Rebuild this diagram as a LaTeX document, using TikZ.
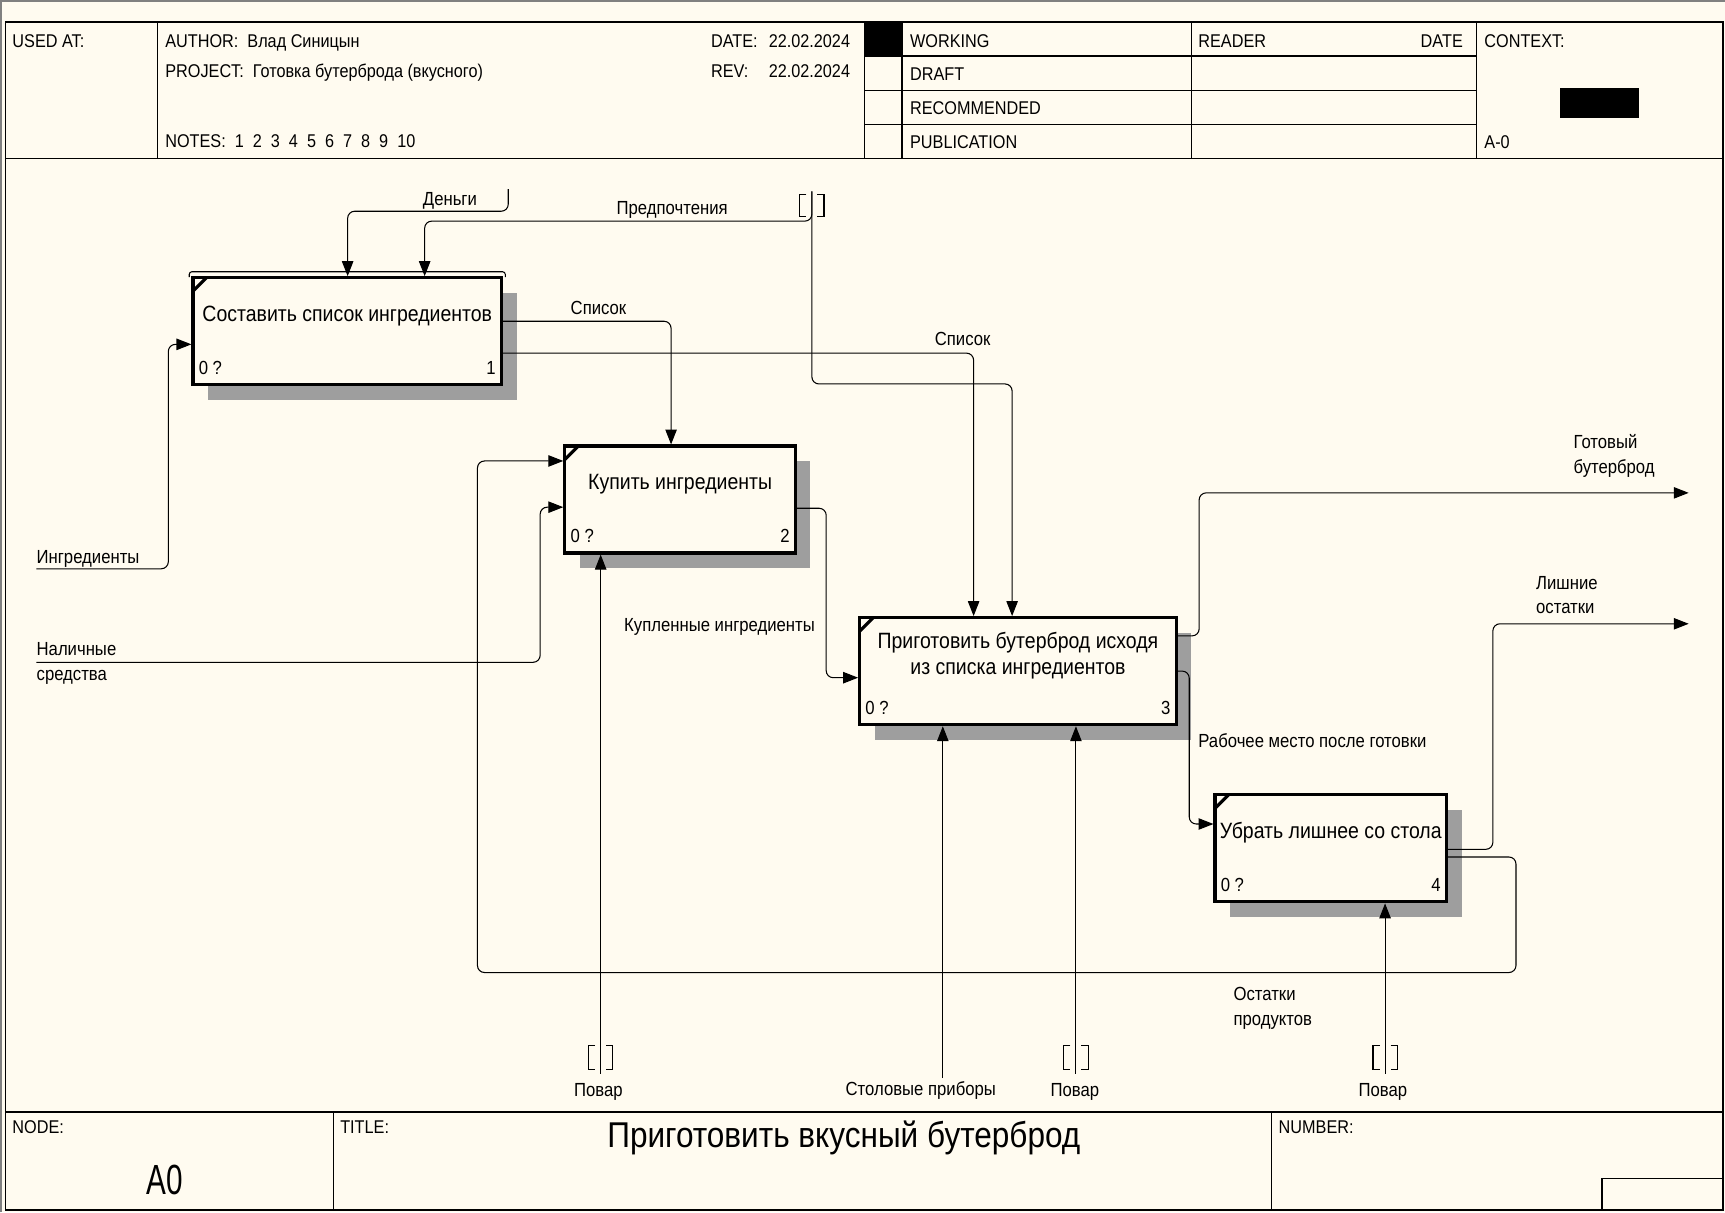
\documentclass[tikz,border=0pt]{standalone}
\usepackage{fontspec}
\setmainfont{Liberation Sans}[FakeStretch=0.88]
\usetikzlibrary{arrows.meta,shadows}
\definecolor{paper}{HTML}{FFFBF0}
\newcommand\boxfont{\fontsize{12.6}{14.4}\selectfont}
\newcommand\lblfont{\fontsize{10.5}{13}\selectfont}
\newcommand\arrfont{\fontsize{10.8}{13}\selectfont}

\begin{document}
\begin{tikzpicture}[x=0.022cm, y=-0.022cm,
  frame/.style={line width=0.8pt},
  act/.style 2 args={draw, line width=1.8pt, fill=paper, anchor=north west, inner sep=0pt, minimum height=2.14cm,
    drop shadow={shadow xshift=0.3cm, shadow yshift=-0.3cm, opacity=1, fill=black!38},
    path picture={\draw[line width=1.8pt] ([yshift=-0.27cm]path picture bounding box.north west) -- ([xshift=0.27cm]path picture bounding box.north west);},
    label={[yshift=0.31cm, align=center, font=\boxfont]center:#1},
    label={[anchor=south west, inner xsep=4pt, inner ysep=6.5pt, font=\arrfont]south west:0 ?},
    label={[anchor=south east, inner xsep=4pt, inner ysep=6.5pt, font=\arrfont]south east:#2}},
  arr/.style={-{Triangle[length=8.5pt,width=6.5pt]}, line width=0.6pt, rounded corners=4pt},
  tunnel/.style={line width=0.6pt},
  hdr/.style={font=\lblfont, inner sep=0pt},
  lbl/.style={font=\arrfont, inner sep=0pt}]
\fill[paper] (0,0) rectangle (1568,1102);
\useasboundingbox (0,0) rectangle (1568,1102);
\draw[gray, line width=1.2pt] (1,1102) -- (1,1) -- (1568,1);
% form
\draw[frame] (5,20) rectangle (1566,1100);
\draw[frame] (5,144) -- (1566,144);
\draw[frame] (143,20) -- (143,144) (786,20) -- (786,144) (820,20) -- (820,144) (1083,20) -- (1083,144) (1342,20) -- (1342,144);
\draw[frame] (786,51) -- (1342,51) (786,82) -- (1342,82) (786,113) -- (1342,113);
\fill (786,20) rectangle (820,51);
\fill (1418,80) rectangle (1490,107);
\draw[frame, line width=1.2pt] (5,1011) -- (1566,1011);
\draw[frame] (303,1011) -- (303,1100) (1156,1011) -- (1156,1100);
\draw[frame] (1456,1100) |- (1566,1071);
\node[hdr, anchor=base west] (hUsed) at (11,43) {USED AT:};
\node[hdr, anchor=base west] (hAuthor) at (150,43) {AUTHOR:\ \ Влад Синицын};
\node[hdr, anchor=base west] (hProject) at (150,70) {PROJECT:\ \ Готовка бутерброда (вкусного)};
\node[hdr, anchor=base west] (hNotes) at (150,134) {NOTES:\ \ 1\ \ 2\ \ 3\ \ 4\ \ 5\ \ 6\ \ 7\ \ 8\ \ 9\ \ 10};
\node[hdr, anchor=base west] (hDate) at (646,43) {DATE:};
\node[hdr, anchor=base east] (hDateV) at (773,43) {22.02.2024};
\node[hdr, anchor=base west] (hRev) at (646,70) {REV:};
\node[hdr, anchor=base east] (hRevV) at (773,70) {22.02.2024};
\node[hdr, anchor=base west] (hWork) at (827,43) {WORKING};
\node[hdr, anchor=base west] (hDraft) at (827,73) {DRAFT};
\node[hdr, anchor=base west] (hRec) at (827,104) {RECOMMENDED};
\node[hdr, anchor=base west] (hPub) at (827,135) {PUBLICATION};
\node[hdr, anchor=base west] (hReader) at (1089,43) {READER};
\node[hdr, anchor=base east] (hRDate) at (1330,43) {DATE};
\node[hdr, anchor=base west] (hCtx) at (1349,43) {CONTEXT:};
\node[hdr, anchor=base west] (hCtxNode) at (1349,135) {A-0};
\node[hdr, anchor=base west] (fNode) at (11,1030) {NODE:};
\node[hdr, anchor=base west] (fTitleLbl) at (309,1030) {TITLE:};
\node[hdr, anchor=base west] (fNumber) at (1162,1030) {NUMBER:};
\node[inner sep=0pt, anchor=base, font=\fontsize{24}{28}\selectfont] (fA0) at (150,1086) {\scalebox{0.8}[1]{A0}};
\node[inner sep=0pt, anchor=base, font=\fontsize{20.4}{24}\selectfont] (fTitle) at (767,1043) {Приготовить вкусный бутерброд};
% activities
\node[act={Составить список ингредиентов}{1}, minimum width=6.17cm] (A1) at (174,251) {};
\node[act={Купить ингредиенты}{2}, minimum width=4.61cm] (A2) at (512,404) {};
\node[act={Приготовить бутерброд исходя\\из списка ингредиентов}{3}, minimum width=6.33cm] (A3) at (780,560) {};
\node[act={Убрать лишнее со стола}{4}, minimum width=4.63cm] (A4) at (1103,721) {};
\draw[line width=0.6pt, rounded corners=1.5pt] ([shift={(-2,1)}]A1.north west) -- ([shift={(-2,-4)}]A1.north west) -- ([shift={(2,-4)}]A1.north east) -- ([shift={(2,1)}]A1.north east);
% free ends
\coordinate (ingr) at (33,517);
\coordinate (cash) at (33,602);
\coordinate (money) at (462,172);
\coordinate (pref) at (738,174);
\coordinate (ready) at (1535,448);
\coordinate (extra) at (1535,567);
\coordinate (cook2) at (546,976);
\coordinate (cutlery) at (857,980);
\coordinate (cook3) at (978,976);
\coordinate (cook4) at (1259,976);
% arrows
\draw[arr] (ingr) -| (153,313) -- (A1.west |- 0,313);
\draw[arr] (cash) -| (491,461) -- (A2.west |- 0,461);
\draw[arr] (money) |- (316,192) -- (A1.north -| 316,0);
\draw[arr] (pref) |- (386,201) -- (A1.north -| 386,0);
\draw[arr] (pref) |- (920,349) -- (A3.north -| 920,0);
\draw[arr] (A1.east |- 0,292) -| (A2.north -| 610,0);
\draw[arr] (A1.east |- 0,321) -| (A3.north -| 885,0);
\draw[arr] (A2.east |- 0,462) -| (751,616) -- (A3.west |- 0,616);
\draw[arr] (A3.east |- 0,578) -| (1090,448) -- (ready);
\draw[arr] (A3.east |- 0,610) -| (1081,749) -- (A4.west |- 0,749);
\draw[arr] (A4.east |- 0,772) -| (1357,567) -- (extra);
\draw[arr] (A4.east |- 0,779) -| (1378,884) -| (434,419) -- (A2.west |- 0,419);
\draw[arr] (cook2) -- (A2.south -| cook2);
\draw[arr] (cutlery) -- (A3.south -| cutlery);
\draw[arr] (cook3) -- (A3.south -| cook3);
\draw[arr] (cook4) -- (A4.south -| cook4);
% tunnels
\draw[tunnel] (pref) ++(-5,3) -- ++(-6,0) -- ++(0,20) -- ++(6,0) (pref) ++(5,3) -- ++(6,0) -- ++(0,20) -- ++(-6,0);
\draw[tunnel] (cook2) ++(-5,-26) -- ++(-6,0) -- ++(0,22) -- ++(6,0) (cook2) ++(5,-26) -- ++(6,0) -- ++(0,22) -- ++(-6,0);
\draw[tunnel] (cook3) ++(-5,-26) -- ++(-6,0) -- ++(0,22) -- ++(6,0) (cook3) ++(5,-26) -- ++(6,0) -- ++(0,22) -- ++(-6,0);
\draw[tunnel] (cook4) ++(-5,-26) -- ++(-6,0) -- ++(0,22) -- ++(6,0) (cook4) ++(5,-26) -- ++(6,0) -- ++(0,22) -- ++(-6,0);
% labels
\node[lbl, anchor=base] (lMoney) at (409,187) {Деньги};
\node[lbl, anchor=base] (lPref) at (611,195) {Предпочтения};
\node[lbl, anchor=base] (lList1) at (544,286) {Список};
\node[lbl, anchor=base] (lList2) at (875,314) {Список};
\node[lbl, anchor=base west] (lIngr) at (33,512) {Ингредиенты};
\node[lbl, anchor=base west] (lCash1) at (33,596) {Наличные};
\node[lbl, anchor=base west] (lCash2) at (33,619) {средства};
\node[lbl, anchor=base] (lBought) at (654,574) {Купленные ингредиенты};
\node[lbl, anchor=base west] (lReady1) at (1430,408) {Готовый};
\node[lbl, anchor=base west] (lReady2) at (1430,430) {бутерброд};
\node[lbl, anchor=base west] (lExtra1) at (1396,536) {Лишние};
\node[lbl, anchor=base west] (lExtra2) at (1396,558) {остатки};
\node[lbl, anchor=base west] (lDesk) at (1089,679) {Рабочее место после готовки};
\node[lbl, anchor=base west] (lRest1) at (1121,909) {Остатки};
\node[lbl, anchor=base west] (lRest2) at (1121,932) {продуктов};
\node[lbl, anchor=base] (lCook2) at (544,997) {Повар};
\node[lbl, anchor=base] (lCutlery) at (837,996) {Столовые приборы};
\node[lbl, anchor=base] (lCook3) at (977,997) {Повар};
\node[lbl, anchor=base] (lCook4) at (1257,997) {Повар};
\end{tikzpicture}
\end{document}
